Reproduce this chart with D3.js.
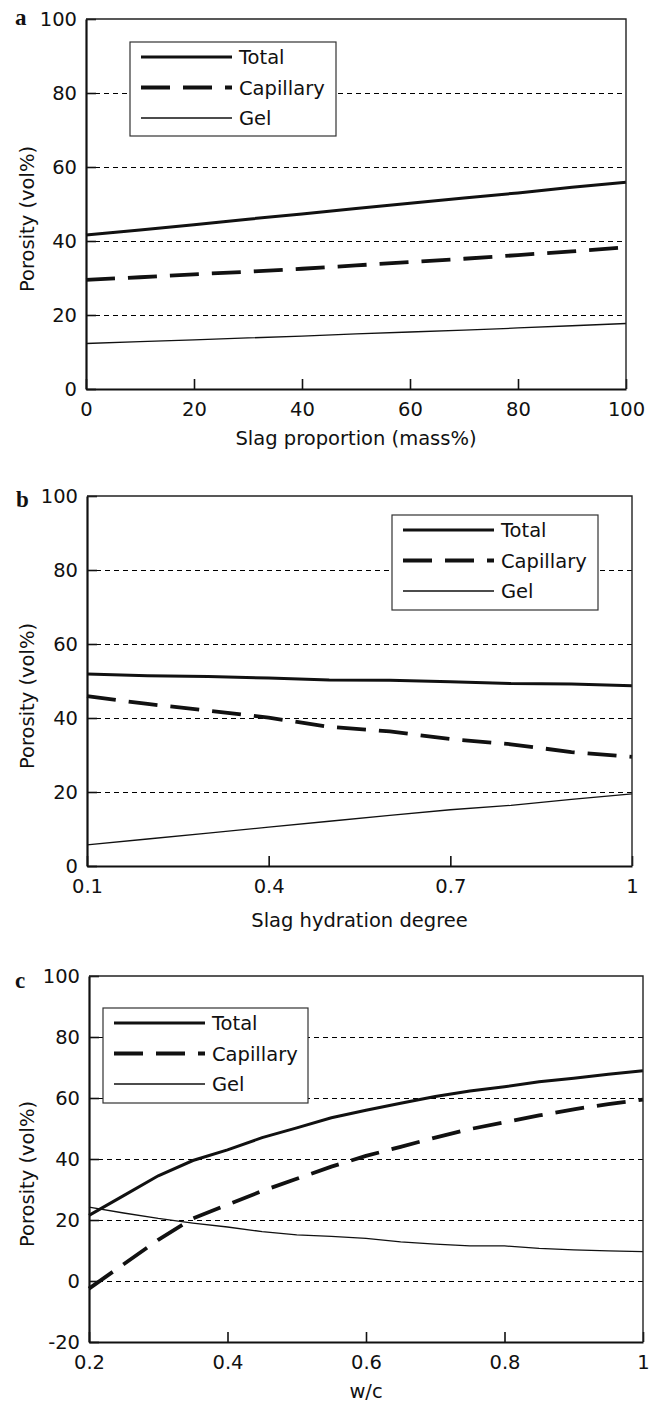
<!DOCTYPE html>
<html>
<head>
<meta charset="utf-8">
<script src="https://cdn.jsdelivr.net/npm/d3@7"></script>
<style>
body { margin: 0; background: #fff; }
text { fill: #111; }
</style>
</head>
<body>
<svg width="653" height="1404"></svg>
<script>
var seriesNames = ["Total", "Capillary", "Gel"];

// panel a: slag proportion (mass%)
var slagProportion = [0, 10, 20, 30, 40, 50, 60, 70, 80, 90, 100];
var totalA     = [41.6, 43.0, 44.4, 45.9, 47.3, 48.8, 50.2, 51.6, 53.0, 54.5, 55.9];
var capillaryA = [29.5, 30.2, 31.0, 31.7, 32.5, 33.4, 34.3, 35.2, 36.2, 37.2, 38.3];
var gelA       = [12.3, 12.8, 13.3, 13.8, 14.3, 14.9, 15.4, 15.9, 16.5, 17.1, 17.7];
var xTicksA = [0, 20, 40, 60, 80, 100];

// panel b: slag hydration degree
var hydrationDegree = [0.1, 0.2, 0.3, 0.4, 0.5, 0.6, 0.7, 0.8, 0.9, 1.0];
var totalB     = [51.9, 51.4, 51.2, 50.8, 50.3, 50.2, 49.8, 49.3, 49.2, 48.7];
var capillaryB = [45.9, 43.8, 42.0, 40.1, 37.6, 36.4, 34.3, 32.9, 30.8, 29.5];
var gelB       = [5.7, 7.3, 8.9, 10.5, 12.1, 13.7, 15.2, 16.4, 18.0, 19.5];
var xTicksB = [0.1, 0.4, 0.7, 1];

// panel c: w/c
var wcRatio = [0.2, 0.25, 0.3, 0.35, 0.4, 0.45, 0.5, 0.55, 0.6, 0.65, 0.7, 0.75, 0.8, 0.85, 0.9, 0.95, 1.0];
var totalC     = [21.5, 28.0, 34.5, 39.5, 43.0, 47.0, 50.2, 53.5, 56.0, 58.3, 60.5, 62.3, 63.7, 65.3, 66.5, 67.8, 68.9];
var capillaryC = [-2.5, 5.5, 13.5, 20.5, 25.0, 29.5, 33.5, 37.5, 41.0, 44.0, 47.0, 49.8, 52.0, 54.3, 56.3, 58.0, 59.5];
var gelC       = [24.2, 22.3, 20.5, 19.0, 17.7, 16.2, 15.1, 14.6, 14.0, 12.8, 12.1, 11.5, 11.5, 10.7, 10.2, 9.9, 9.6];
var xTicksC = [0.2, 0.4, 0.6, 0.8, 1];

var yTicksAB = [0, 20, 40, 60, 80, 100];
var yTicksC = [-20, 0, 20, 40, 60, 80, 100];

var lineStyle = {
    Total: { width: 3, dash: null },
    Capillary: { width: 3.8, dash: "29,13" },
    Gel: { width: 1.3, dash: null }
};

var svg = d3.select("svg");
var fontFamily = "'DejaVu Sans', sans-serif";
var fontSize = 19.5;

var panels = [
    {
        label: "a", labelX: 15, labelY: 25,
        xs: slagProportion, ys: [totalA, capillaryA, gelA],
        xDomain: [0, 100], yDomain: [0, 100],
        xTicks: xTicksA, yTicks: yTicksAB,
        left: 86, right: 626, top: 19, bottom: 389,
        xTitle: "Slag proportion (mass%)", xTitleY: 445,
        legend: { x: 130, y: 42, w: 206, h: 94 }
    },
    {
        label: "b", labelX: 16, labelY: 507,
        xs: hydrationDegree, ys: [totalB, capillaryB, gelB],
        xDomain: [0.1, 1], yDomain: [0, 100],
        xTicks: xTicksB, yTicks: yTicksAB,
        left: 87, right: 632, top: 496, bottom: 866,
        xTitle: "Slag hydration degree", xTitleY: 927,
        legend: { x: 392, y: 515, w: 206, h: 95 }
    },
    {
        label: "c", labelX: 15, labelY: 988,
        xs: wcRatio, ys: [totalC, capillaryC, gelC],
        xDomain: [0.2, 1], yDomain: [-20, 100],
        xTicks: xTicksC, yTicks: yTicksC,
        left: 89, right: 643, top: 976, bottom: 1342,
        xTitle: "w/c", xTitleY: 1398,
        legend: { x: 103, y: 1008, w: 205, h: 95 }
    }
];

panels.forEach(drawPanel);

function drawPanel(p) {
    var x = d3.scaleLinear().domain(p.xDomain).range([p.left, p.right]);
    var y = d3.scaleLinear().domain(p.yDomain).range([p.bottom, p.top]);
    var g = svg.append("g");

    // dashed horizontal grid
    g.selectAll(".grid")
        .data(p.yTicks.filter(function(v) { return v > p.yDomain[0] && v < p.yDomain[1]; }))
        .enter().append("line")
        .attr("x1", p.left).attr("x2", p.right)
        .attr("y1", function(d) { return Math.round(y(d)) + 0.5; })
        .attr("y2", function(d) { return Math.round(y(d)) + 0.5; })
        .attr("stroke", "#000")
        .attr("stroke-width", 1.2)
        .attr("stroke-dasharray", "5,4");

    // series
    var line = d3.line()
        .x(function(d) { return x(d[0]); })
        .y(function(d) { return y(d[1]); });

    seriesNames.forEach(function(name, i) {
        var pts = p.xs.map(function(v, j) { return [v, p.ys[i][j]]; });
        g.append("path")
            .datum(pts)
            .attr("d", line)
            .attr("fill", "none")
            .attr("stroke", "#111")
            .attr("stroke-width", lineStyle[name].width)
            .attr("stroke-dasharray", lineStyle[name].dash);
    });

    // legend
    var lg = p.legend;
    g.append("rect")
        .attr("x", lg.x).attr("y", lg.y)
        .attr("width", lg.w).attr("height", lg.h)
        .attr("fill", "#fff")
        .attr("stroke", "#333")
        .attr("stroke-width", 1.2);

    seriesNames.forEach(function(name, i) {
        var ry = lg.y + 15 + i * 30.5;
        g.append("line")
            .attr("x1", lg.x + 11).attr("x2", lg.x + 102)
            .attr("y1", ry).attr("y2", ry)
            .attr("stroke", "#111")
            .attr("stroke-width", lineStyle[name].width)
            .attr("stroke-dasharray", lineStyle[name].dash);
        g.append("text")
            .attr("x", lg.x + 109).attr("y", ry)
            .attr("dy", "0.36em")
            .style("font-family", fontFamily)
            .style("font-size", fontSize + "px")
            .text(name);
    });

    // axes
    var fmt = function(d) { return String(d); };

    var xAxis = g.append("g")
        .attr("transform", "translate(0," + p.bottom + ")")
        .call(d3.axisBottom(x).tickValues(p.xTicks).tickFormat(fmt)
            .tickSizeInner(-10).tickSizeOuter(0).tickPadding(13));

    var yAxis = g.append("g")
        .attr("transform", "translate(" + p.left + ",0)")
        .call(d3.axisLeft(y).tickValues(p.yTicks).tickFormat(fmt)
            .tickSizeInner(-10).tickSizeOuter(0).tickPadding(9));

    [xAxis, yAxis].forEach(function(ax) {
        ax.attr("font-family", fontFamily).attr("font-size", fontSize);
        ax.select(".domain").attr("stroke", "#111").attr("stroke-width", 2.2);
        ax.selectAll(".tick line").attr("stroke", "#111").attr("stroke-width", 1.6);
        ax.selectAll(".tick text").attr("fill", "#111");
    });

    // box top and right
    g.append("path")
        .attr("d", "M" + p.left + "," + p.top + "H" + p.right + "V" + p.bottom)
        .attr("fill", "none")
        .attr("stroke", "#222")
        .attr("stroke-width", 1.4);

    // titles
    g.append("text")
        .attr("x", (p.left + p.right) / 2)
        .attr("y", p.xTitleY)
        .attr("text-anchor", "middle")
        .style("font-family", fontFamily)
        .style("font-size", fontSize + "px")
        .text(p.xTitle);

    g.append("text")
        .attr("transform", "translate(34," + ((p.top + p.bottom) / 2 + 15) + ") rotate(-90)")
        .attr("text-anchor", "middle")
        .style("font-family", fontFamily)
        .style("font-size", fontSize + "px")
        .text("Porosity (vol%)");

    g.append("text")
        .attr("x", p.labelX).attr("y", p.labelY)
        .style("font-family", "'Liberation Serif', serif")
        .style("font-weight", "bold")
        .style("font-size", "23px")
        .text(p.label);
}
</script>
</body>
</html>
